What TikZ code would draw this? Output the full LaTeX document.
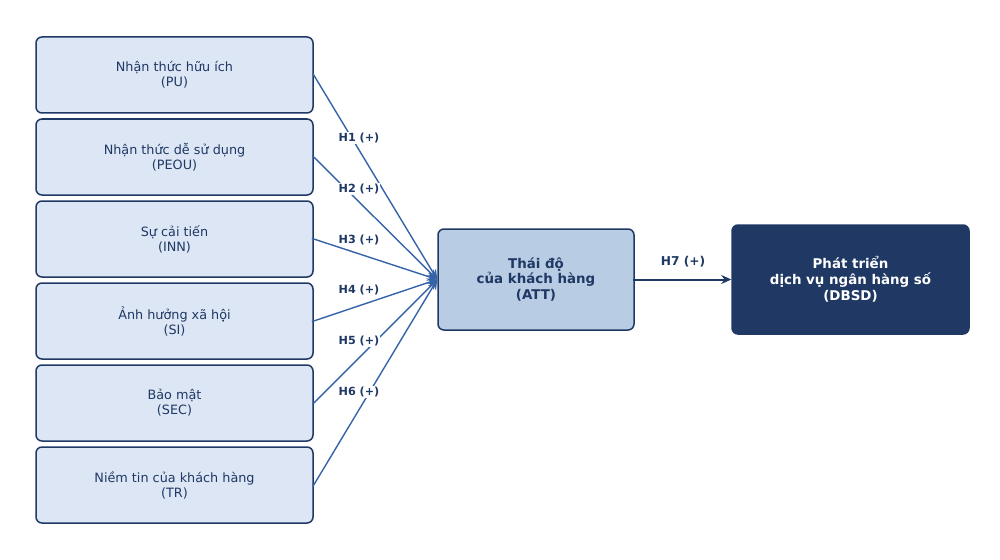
\documentclass[tikz,border=0pt]{standalone}
\usepackage{fontspec}
\setmainfont{DejaVu Sans}
\usetikzlibrary{arrows.meta, positioning}
\definecolor{cnavy}{HTML}{1F3864}
\definecolor{clight}{HTML}{DCE6F4}
\definecolor{cmid}{HTML}{B8CCE4}
\definecolor{cline}{HTML}{3563A8}
\tikzset{
  every picture/.style={line width=1.5pt},
  factor/.style={draw=cnavy, fill=clight, rounded corners=6pt, align=center, text=cnavy,
    minimum width=277pt, minimum height=76pt, font=\fontsize{12.8}{15}\selectfont},
  core/.style={draw=cnavy, fill=cmid, rounded corners=6pt, align=center, text=cnavy,
    minimum width=196pt, minimum height=101pt, font=\fontsize{13.4}{15.5}\selectfont\bfseries},
  goal/.style={draw=cnavy, fill=cnavy, rounded corners=6pt, align=center, text=white,
    minimum width=237pt, minimum height=109pt, font=\fontsize{13.4}{16}\selectfont\bfseries},
  link/.style={-{Stealth[length=10pt, width=9pt]}, draw=cline, line width=1.4pt, shorten <=-2pt},
  mainlink/.style={-{Stealth[length=10pt, width=9pt]}, draw=cnavy, line width=2pt, shorten <=-2pt},
  hyp/.style={font=\fontsize{11.2}{13}\selectfont\bfseries, text=cnavy, fill=white, inner sep=1pt},
}

\begin{document}
\begin{tikzpicture}[x=1pt, y=-1pt]
  \useasboundingbox (0,0) rectangle (1000,559);
  % factors
  \node[factor] (pu) at (174.5,75) {Nhận thức hữu ích\\(PU)};
  \node[factor] (peou) at (174.5,157) {Nhận thức dễ sử dụng\\(PEOU)};
  \node[factor] (inn) at (174.5,239) {Sự cải tiến\\(INN)};
  \node[factor] (si) at (174.5,321) {Ảnh hưởng xã hội\\(SI)};
  \node[factor] (sec) at (174.5,403) {Bảo mật\\(SEC)};
  \node[factor] (tr) at (174.5,485) {Niềm tin của khách hàng\\(TR)};
  % attitude and outcome
  \node[core] (att) at (536,279.5) {Thái độ\\của khách hàng\\(ATT)};
  \node[goal] (dbsd) at (850.5,279.5) {Phát triển\\dịch vụ ngân hàng số\\(DBSD)};
  % hypotheses
  \draw[link] (pu.east) -- (att.west);
  \draw[link] (peou.east) -- (att.west);
  \draw[link] (inn.east) -- (att.west);
  \draw[link] (si.east) -- (att.west);
  \draw[link] (sec.east) -- (att.west);
  \draw[link] (tr.east) -- (att.west);
  \node[hyp] (h1) at (359,138) {H1 (+)};
  \node[hyp] (h2) at (359,189) {H2 (+)};
  \node[hyp] (h3) at (359,240) {H3 (+)};
  \node[hyp] (h4) at (359,290) {H4 (+)};
  \node[hyp] (h5) at (359,341) {H5 (+)};
  \node[hyp] (h6) at (359,392) {H6 (+)};
  \draw[mainlink] (att.east) -- node[hyp, font=\fontsize{12.2}{14}\selectfont\bfseries, above=10pt] (h7) {H7 (+)} (dbsd.west);
\end{tikzpicture}
\end{document}
